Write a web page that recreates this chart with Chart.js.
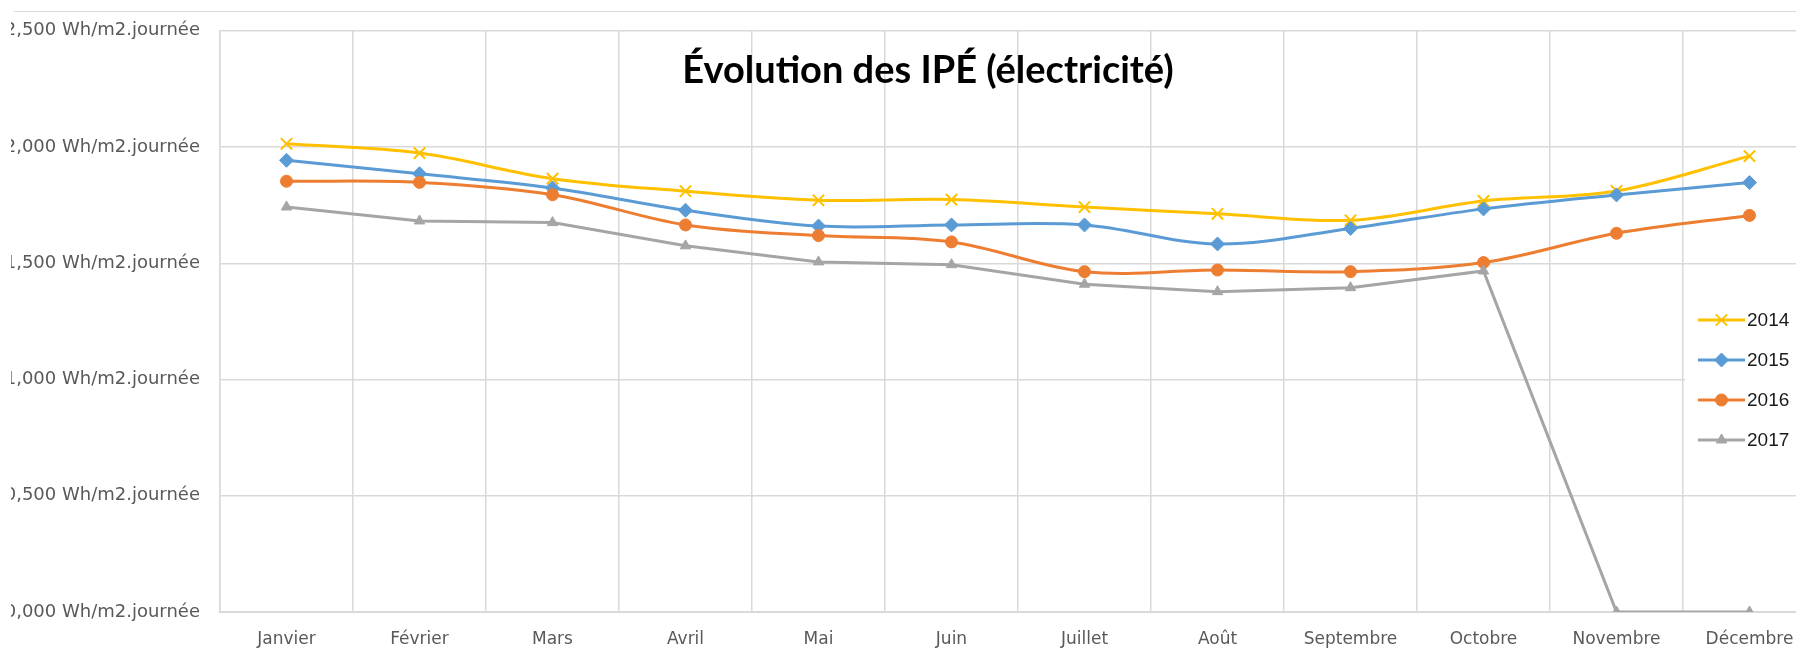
<!DOCTYPE html>
<html><head><meta charset="utf-8">
<script src="https://cdn.jsdelivr.net/npm/chart.js@4/dist/chart.umd.min.js"></script>
<style>
html,body{margin:0;padding:0;background:#fff;overflow:hidden;width:1796px;height:672px;}
#wrap{position:relative;width:1796px;height:672px;overflow:hidden;background:#fff;}
#c{position:absolute;left:0;top:0;}
#topline{position:absolute;left:14px;right:0;top:11px;height:1px;background:#d9d9d9;}
#edge{position:absolute;left:0;top:0;width:11px;height:672px;background:#fff;}
</style></head><body>
<div id="wrap"><div id="topline"></div><canvas id="c" width="1830" height="672"></canvas><div id="edge"></div></div>
<script>
const months = ['Janvier','Février','Mars','Avril','Mai','Juin','Juillet','Août','Septembre','Octobre','Novembre','Décembre'];
const seriesNames = ['2014','2015','2016','2017'];
const v2014 = [2.014,1.974,1.864,1.810,1.771,1.774,1.742,1.713,1.685,1.768,1.811,1.961];
const v2015 = [1.943,1.885,1.824,1.728,1.660,1.665,1.665,1.583,1.650,1.734,1.794,1.847];
const v2016 = [1.853,1.848,1.795,1.665,1.619,1.592,1.464,1.471,1.464,1.503,1.629,1.706];
const v2017 = [1.742,1.682,1.675,1.575,1.506,1.494,1.410,1.378,1.395,1.467,0,0];
const yTicks = [0,0.5,1,1.5,2,2.5];
const unitLabel = 'Wh/m2.journée';
const chartTitle = 'Évolution des IPÉ (électricité)';

const colors = ['#FFC000','#5B9BD5','#ED7D31','#A5A5A5'];
const styles = ['crossRot','rectRot','circle','triangle'];
const radii = [8,7,6,6];
const tensions = [0.35,0.35,0.35,0];
const values = [v2014,v2015,v2016,v2017];

const datasets = seriesNames.map((n,i)=>({
  label:n, data:values[i], borderColor:colors[i], backgroundColor:colors[i],
  borderWidth:3, tension:tensions[i], pointStyle:styles[i], pointRadius:radii[i],
  pointBackgroundColor:colors[i], pointBorderColor:colors[i],
  pointBorderWidth: i===0?2:1, order:4-i, fill:false
}));

const overlay = {
  id:'overlay',
  afterDraw(chart){
    const ctx = chart.ctx, ca = chart.chartArea;
    ctx.save();
    ctx.font = 'bold 38px Lato, "Open Sans", sans-serif';
    ctx.fillStyle = '#000'; ctx.textAlign = 'center'; ctx.textBaseline = 'alphabetic';
    ctx.fillText(chartTitle, 928, 83);
    // legend box
    const lx = ca.right - 131;
    ctx.fillStyle = '#fff';
    ctx.fillRect(lx, 300, 200, 160);
    chart.data.datasets.forEach((ds,i)=>{
      const y = 320 + i*40;
      const x0 = ca.right - 118, x1 = ca.right - 71;
      ctx.strokeStyle = ds.borderColor; ctx.lineWidth = 3;
      ctx.beginPath(); ctx.moveTo(x0,y); ctx.lineTo(x1,y); ctx.stroke();
      ctx.fillStyle = ds.pointBackgroundColor; ctx.strokeStyle = ds.pointBorderColor;
      ctx.lineWidth = ds.pointBorderWidth;
      Chart.helpers.drawPoint(ctx, {pointStyle:ds.pointStyle, radius:ds.pointRadius, borderWidth:ds.pointBorderWidth, rotation:0}, (x0+x1)/2, y);
      ctx.fillStyle = '#1a1a1a'; ctx.textAlign = 'left'; ctx.textBaseline = 'middle';
      ctx.font = '19px "Liberation Sans", Arial, sans-serif';
      ctx.fillText(ds.label, x1 + 2, y + 1);
    });
    ctx.restore();
  }
};

new Chart(document.getElementById('c'), {
  type:'line',
  data:{labels:months, datasets:datasets},
  options:{
    responsive:false, animation:false, devicePixelRatio:1,
    layout:{padding:{top:29,right:14,bottom:0,left:0}},
    plugins:{legend:{display:false}, title:{display:false}, tooltip:{enabled:false}},
    scales:{
      x:{offset:true,
         grid:{offset:true, color:'#d9d9d9', lineWidth:1.5, drawTicks:false},
         border:{color:'#d9d9d9', width:2},
         ticks:{padding:17, color:'#595959', maxRotation:0, autoSkip:false,
                font:{family:'"DejaVu Sans"', size:17}},
         afterFit(s){ s.height = 60; }},
      y:{min:0, max:2.5,
         afterBuildTicks(s){ s.ticks = yTicks.map(v=>({value:v})); },
         grid:{color:'#d9d9d9', lineWidth:1.5, drawTicks:false},
         border:{display:true, color:'#d9d9d9', width:1.5},
         ticks:{padding:20, color:'#595959', font:{family:'"DejaVu Sans"', size:18},
                callback:v=>v.toFixed(3).replace('.',',')+' '+unitLabel},
         afterFit(s){ s.width = 220; }}
    }
  },
  plugins:[overlay]
});
</script>
</body></html>
